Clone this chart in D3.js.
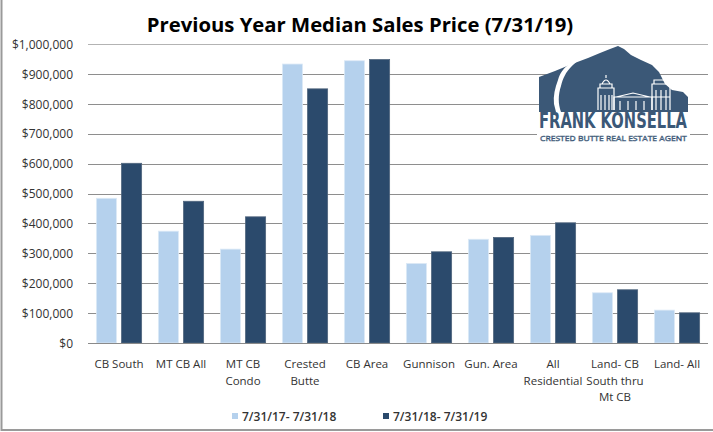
<!DOCTYPE html>
<html>
<head>
<meta charset="utf-8">
<script src="https://cdn.jsdelivr.net/npm/d3@7"></script>
<style>
  html, body { margin: 0; padding: 0; background: #fff; }
  svg { display: block; }
</style>
</head>
<body>
<svg id="chart" width="713" height="432"></svg>
<script>
// ---- data ----
const categories = [
  ["CB South"],
  ["MT CB All"],
  ["MT CB", "Condo"],
  ["Crested", "Butte"],
  ["CB Area"],
  ["Gunnison"],
  ["Gun. Area"],
  ["All", "Residential"],
  ["Land- CB", "South thru", "Mt CB"],
  ["Land- All"]
];
const seriesNames = ["7/31/17- 7/31/18", "7/31/18- 7/31/19"];
const series2018 = [484000, 374000, 314000, 933000, 944000, 266000, 347000, 360000, 168000, 110000];
const series2019 = [601000, 474000, 422000, 850000, 948000, 305000, 353000, 402000, 178000, 101000];
const yTicks = [0, 100000, 200000, 300000, 400000, 500000, 600000, 700000, 800000, 900000, 1000000];
const titleText = "Previous Year Median Sales Price (7/31/19)";

const colors = ["#b5d1ed", "#2b4a6c"];
const font = "'Open Sans', 'Noto Sans', sans-serif";

const svg = d3.select("#chart");
const plot = { left: 88, right: 708, top: 44, bottom: 343 };

// outer border
svg.append("rect").attr("x", 1.5).attr("y", -2).attr("width", 720).attr("height", 432)
  .attr("fill", "none").attr("stroke", "#9a9a9a").attr("stroke-width", 2);

const keys = categories.map((c, i) => "c" + i);
const x0 = d3.scaleBand().domain(keys).range([plot.left, plot.right]).paddingInner(0.27).paddingOuter(0.135);
const x1 = d3.scaleBand().domain([0, 1]).range([0, x0.bandwidth()]).paddingInner(0.2);
const y = d3.scaleLinear().domain([0, 1000000]).range([plot.bottom, plot.top]);

// gridlines
svg.append("g").selectAll("line").data(yTicks.filter(d => d > 0)).join("line")
  .attr("x1", plot.left).attr("x2", plot.right)
  .attr("y1", d => Math.round(y(d)) + 0.5).attr("y2", d => Math.round(y(d)) + 0.5)
  .attr("stroke", d => d === 1000000 ? "#b3b3b3" : "#8e8e8e").attr("stroke-width", 1);

// y axis labels
const yAxis = d3.axisLeft(y).tickValues(yTicks).tickSize(0).tickPadding(0)
  .tickFormat(d => "$" + d3.format(",")(d));
const gy = svg.append("g").attr("transform", `translate(73,0)`).call(yAxis);
gy.select(".domain").remove();
gy.selectAll("text").attr("font-family", font).attr("font-size", 12).attr("fill", "#333")
  .attr("dy", "0.35em");

// logo
const logo = svg.append("g");
const logoColor = "#3b5877";
logo.append("rect").attr("x", 537).attr("y", 110).attr("width", 153).attr("height", 32).attr("fill", "#fff");
const mountain = [[539,112],[539,77],[555,71],[572,64],[588,58],[600,53],[610,49],[618,46],[624,49],[631,55],[641,60],[652,65],[659,72],[665,84],[672,90],[683,92],[688,97],[688,112]];
logo.append("path").attr("d", d3.line()(mountain) + "Z").attr("fill", logoColor);
// road
logo.append("path")
  .attr("d", "M579,58 C574,60 570,62 568,65 C563,69 560,73 558,80 C555,88 553,96 554,104 L556,112 L561,112 C558,104 558,95 561,86 C563,78 566,72 571,67 C574,64 577,61 580,59 Z")
  .attr("fill", "#fff");
// buildings
const bld = logo.append("g").attr("fill", "none").attr("stroke", "#fff").attr("stroke-width", 1.2);
bld.append("path").attr("d", "M598,110 L598,88 L614,88 L614,110");
bld.append("path").attr("d", "M600,88 L600,84 L612,84 L612,88 M602,84 Q606,76 610,84 M606,78 L606,75");
bld.append("path").attr("d", "M601,110 L601,95 M605,110 L605,95 M609,110 L609,95 M612,110 L612,95");
bld.append("path").attr("d", "M614,110 L614,97 L652,97 L652,110 M616,97 L633,93 L650,97");
bld.append("path").attr("d", "M620,110 L620,101 M628,110 L628,101 M636,110 L636,101 M644,110 L644,101");
bld.append("path").attr("d", "M652,110 L652,84 L670,84 L670,110 M654,84 L654,80 L668,80 L668,84");
bld.append("path").attr("d", "M656,110 L656,90 M661,110 L661,90 M666,110 L666,90 M652,97 L670,97");

function fitText(sel, x, targetW) {
  const w = sel.node().getComputedTextLength();
  const s = targetW / w;
  sel.attr("x", 0).attr("transform", `translate(${x},0) scale(${s},1)`);
}
const brand = logo.append("text").attr("y", 128)
  .attr("font-family", "'DejaVu Sans', sans-serif").attr("font-weight", "bold")
  .attr("font-size", 21).attr("fill", logoColor).text("FRANK KONSELLA");
fitText(brand, 539, 148);
const tag = logo.append("text").attr("y", 141.5)
  .attr("font-family", font).attr("font-size", 7.5)
  .attr("fill", "none").attr("stroke", logoColor).attr("stroke-width", 0.5)
  .text("CRESTED BUTTE REAL ESTATE AGENT");
fitText(tag, 540, 147);

// bars
const data = categories.map((c, i) => ({ key: keys[i], vals: [series2018[i], series2019[i]] }));
const groups = svg.append("g").selectAll("g").data(data).join("g")
  .attr("transform", d => `translate(${x0(d.key)},0)`);
groups.selectAll("rect").data(d => d.vals.map((v, j) => ({ v, j }))).join("rect")
  .attr("x", d => x1(d.j)).attr("width", x1.bandwidth())
  .attr("y", d => y(d.v)).attr("height", d => y(0) - y(d.v))
  .attr("fill", d => colors[d.j])
  .attr("stroke", d => d.j === 0 ? "#dce9f6" : "#51667e").attr("stroke-width", 0.8);

// x axis baseline
svg.append("line").attr("x1", plot.left).attr("x2", plot.right)
  .attr("y1", plot.bottom + 0.5).attr("y2", plot.bottom + 0.5)
  .attr("stroke", "#8a8a8a").attr("stroke-width", 1);

// x labels
const xl = svg.append("g");
categories.forEach((lines, i) => {
  const cx = x0(keys[i]) + x0.bandwidth() / 2;
  const t = xl.append("text").attr("x", cx).attr("y", 368)
    .attr("text-anchor", "middle").attr("font-family", font).attr("font-size", 11.5).attr("fill", "#333");
  lines.forEach((ln, k) => {
    t.append("tspan").attr("x", cx).attr("dy", k === 0 ? 0 : 16.5).text(ln);
  });
});

// title
svg.append("text").attr("x", 360).attr("y", 32).attr("text-anchor", "middle")
  .attr("font-family", font).attr("font-weight", "bold").attr("font-size", 20.3)
  .attr("fill", "#000").text(titleText);

// legend
const legendX = [232, 383];
seriesNames.forEach((name, j) => {
  svg.append("rect").attr("x", legendX[j]).attr("y", 413).attr("width", 6).attr("height", 6).attr("fill", colors[j]);
  svg.append("text").attr("x", legendX[j] + 10).attr("y", 420.5)
    .attr("font-family", font).attr("font-size", 12).attr("font-weight", 600).attr("fill", "#333").text(name);
});
</script>
</body>
</html>
